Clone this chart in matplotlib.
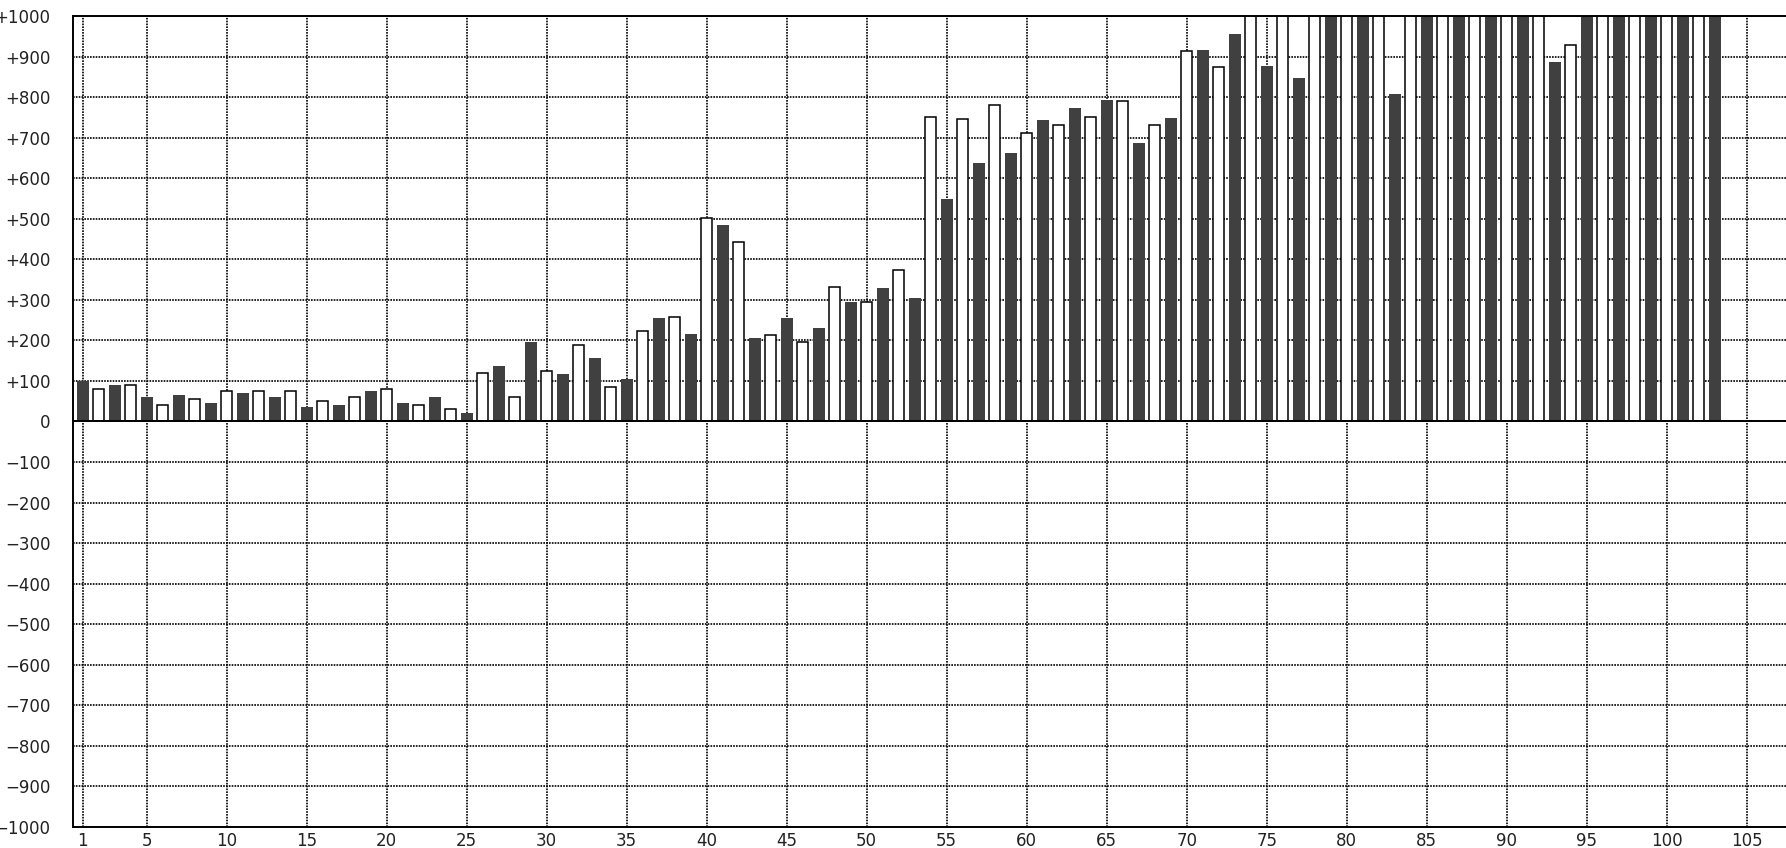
import numpy as np
import matplotlib
matplotlib.use('Agg')
from matplotlib import pyplot as plt

# bar heights, positions 1..103 (odd = dark bars, even = white bars)
# bars running off the top of the chart are given 1100
values = [
    100, 80, 91, 90, 61, 41, 66, 56, 46, 75,
    71, 75, 61, 75, 36, 51, 41, 60, 76, 80,
    46, 41, 61, 31, 22, 119, 136, 60, 196, 124,
    116, 189, 156, 85, 106, 224, 255, 259, 216, 502,
    484, 443, 206, 214, 255, 196, 231, 333, 295, 295,
    330, 373, 305, 751, 549, 746, 638, 781, 663, 711,
    743, 731, 773, 751, 793, 791, 688, 731, 748, 915,
    917, 876, 957, 1100, 877, 1100, 847, 1100, 1100, 1100,
    1100, 1100, 807, 1100, 1100, 1100, 1100, 1100, 1100, 1100,
    1100, 1100, 887, 930, 1100, 1100, 1100, 1100, 1100, 1100,
    1100, 1100, 1100,
]
x_ticks = [1, 5, 10, 15, 20, 25, 30, 35, 40, 45, 50,
           55, 60, 65, 70, 75, 80, 85, 90, 95, 100, 105]
y_ticks = list(range(-1000, 1001, 100))
y_labels = ['0' if v == 0 else ('+%d' % v if v > 0 else '\u2212%d' % -v) for v in y_ticks]

x = np.arange(1, len(values) + 1)
vals = np.array(values)
dark = x % 2 == 1

fig = plt.figure(figsize=(17.86, 8.48), dpi=100)
ax = fig.add_axes([0.0407, 0.0251, 0.9593, 0.9557])

ax.bar(x[dark], vals[dark], width=0.74, color='#404040', linewidth=0, zorder=2)
ax.bar(x[~dark], vals[~dark], width=0.72, color='white', edgecolor='black',
       linewidth=1.1, zorder=2)
ax.axhline(0, color='black', linewidth=1.4, zorder=3)

ax.set_xlim(0.375, 107.46)
ax.set_ylim(-1000, 1000)
ax.set_xticks(x_ticks)
ax.set_xticklabels([str(t) for t in x_ticks])
ax.set_yticks(y_ticks)
ax.set_yticklabels(y_labels)
ax.tick_params(axis='both', length=0, labelsize=12, labelcolor='#222222')
ax.tick_params(axis='y', pad=16)
ax.tick_params(axis='x', pad=4)

ax.set_axisbelow(True)
ax.grid(True, color='black', linestyle=(0, (1, 0.7)), linewidth=1.2)

for s in ['left', 'top', 'bottom']:
    ax.spines[s].set_linewidth(1.4)
ax.spines['right'].set_visible(False)

fig.savefig('out.png', dpi=100)
